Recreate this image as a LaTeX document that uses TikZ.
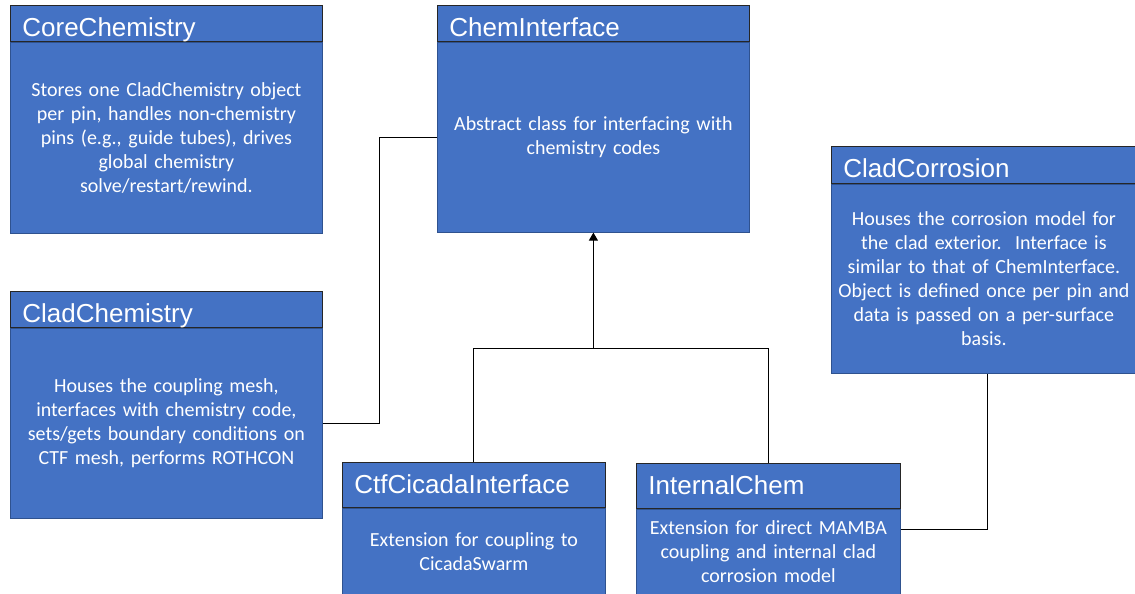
\documentclass[tikz,border=0pt]{standalone}
\usepackage{fontspec}
\setmainfont{Carlito}
\newfontfamily\titlefont{Liberation Sans}
\usetikzlibrary{positioning}
\usetikzlibrary{calc}
\usetikzlibrary{arrows.meta}
\tikzset{>={Triangle[width=9pt,length=8pt]}}
\definecolor{boxblue}{HTML}{4472C4}
\definecolor{boxedge}{HTML}{2F528F}
\definecolor{titleedge}{HTML}{262626}
\tikzset{
	classname/.style={draw=titleedge, line width=0.8pt, fill=boxblue, text=white, anchor=north west,
		inner xsep=12pt, inner ysep=0pt, align=left, text height=31pt,
		font=\titlefont\fontsize{26}{30}\selectfont},
	classbody/.style={draw=boxedge, line width=0.8pt, fill=boxblue, text=white,
		inner xsep=4pt, inner ysep=0pt, align=center, below=0pt of #1,
		font=\fontsize{20}{24}\selectfont},
	link/.style={draw, line width=1.1pt}
}

\begin{document}
\begin{tikzpicture}[x=1pt, y=-1pt]
	\useasboundingbox (0,0) rectangle (1135,594);
	\node (CORE) [classname, text width=288pt, text depth=5pt] at (10,5) {CoreChemistry};
	\node (COREB) [classbody=CORE, text width=304pt, minimum height=191pt] {Stores one CladChemistry object\\per pin, handles non-chemistry\\pins (e.g., guide tubes), drives\\global chemistry\\solve/restart/rewind.};
	\node (IFACE) [classname, text width=288pt, text depth=5pt] at (437,5) {ChemInterface};
	\node (IFACEB) [classbody=IFACE, text width=304pt, minimum height=190pt] {Abstract class for interfacing with\\chemistry codes};
	\node (CORR) [classname, text width=281pt, text depth=6pt] at (831,146) {CladCorrosion};
	\node (CORRB) [classbody=CORR, text width=297pt, minimum height=189pt] {Houses the corrosion model for\\the clad exterior.\ \ Interface is\\similar to that of ChemInterface.\\Object is defined once per pin and\\data is passed on a per-surface\\basis.};
	\node (CLAD) [classname, text width=288pt, text depth=5pt] at (10,291) {CladChemistry};
	\node (CLADB) [classbody=CLAD, text width=304pt, minimum height=190pt] {Houses the coupling mesh,\\interfaces with chemistry code,\\sets/gets boundary conditions on\\CTF mesh, performs ROTHCON};
	\node (CTF) [classname, text width=239pt, text depth=14pt] at (342,462) {CtfCicadaInterface};
	\node (CTFB) [classbody=CTF, text width=255pt, minimum height=86pt] {Extension for coupling to\\CicadaSwarm};
	\node (INT) [classname, text width=240pt, text depth=14pt] at (636,463) {InternalChem};
	\node (INTB) [classbody=INT, text width=256pt, minimum height=85pt] {Extension for direct MAMBA\\coupling and internal clad\\corrosion model};
	
	\coordinate (BEND) at ($(CLADB.east)!0.5!(IFACEB.west)$);
	\coordinate (JOIN) at ([yshift=-116pt]IFACEB.south);
	
	\path [link] (CLADB.east) -| (BEND) |- (IFACEB.west);
	\path [link] (CTF.north) |- (JOIN) -| (INT.north);
	\path [link, ->] (JOIN) -- (IFACEB.south);
	\path [link] ([yshift=22pt]INTB.east) -| ([xshift=3.5pt]CORRB.south);
\end{tikzpicture}
\end{document}
